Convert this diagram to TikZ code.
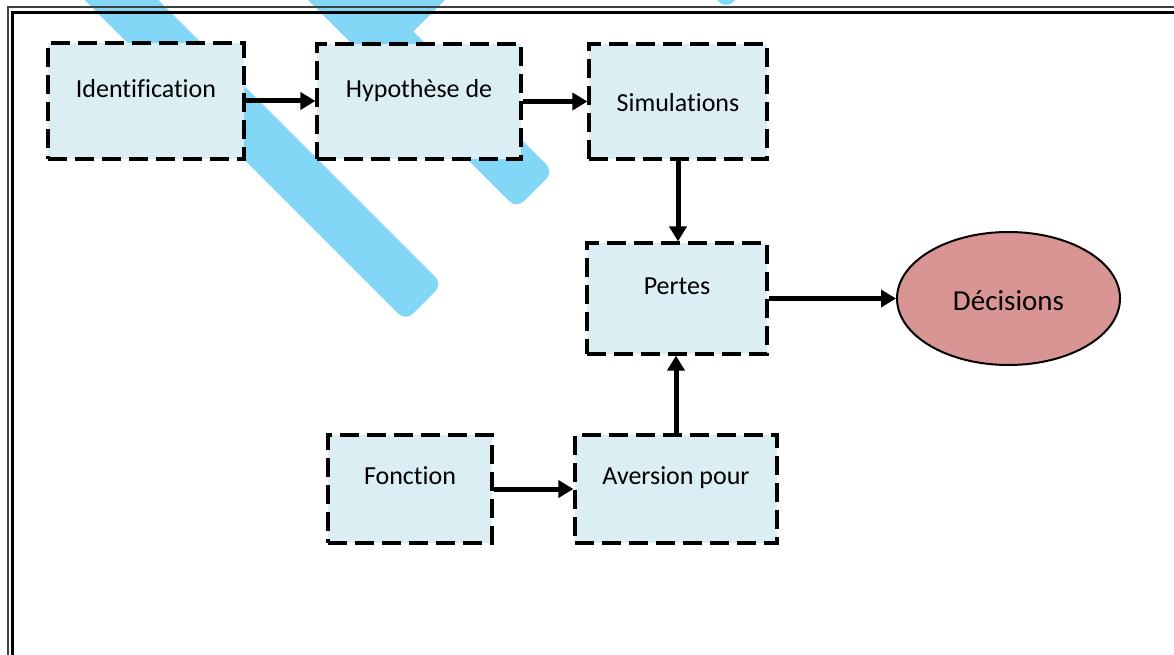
\documentclass[tikz,border=0pt]{standalone}
\usepackage{fontspec}
\setmainfont{Carlito}[Ligatures={NoCommon,NoRequired,NoContextual}]
\usetikzlibrary{arrows.meta,shapes.geometric,calc}
\definecolor{boxfill}{HTML}{DAEEF3}
\definecolor{ellfill}{HTML}{D99594}
\definecolor{bandblue}{HTML}{82D7F7}

\begin{document}
\begin{tikzpicture}[x=1pt,y=-1pt,
  procbox/.style={rectangle, draw=black, line width=3.2pt, dash pattern=on 19pt off 8pt,
                  fill=boxfill, inner sep=0pt},
  boxtext/.style={anchor=base, inner sep=0pt, font=\fontsize{26}{30}\selectfont},
  flow/.style={line width=5pt, -{Triangle[length=15pt,width=17pt]}},
  band/.style={fill=bandblue, rounded corners=10pt},
]
\useasboundingbox (0,0) rectangle (1174,655);

% diagonal background bands
\fill[band] (88.8,-69.5) -- (442.4,284.1) -- (405.6,320.9) -- (52,-32.7) -- cycle;
\fill[band] (199.8,-182) -- (553.4,171.6) -- (516.6,208.4) -- (163,-145.2) -- cycle;
\fill[bandblue] (394.9,49.9) -- (677.9,-233.1) -- (641.1,-269.9) -- (358.1,13.1) -- cycle;
\fill[band] (726,9) -- (762.8,-27.8) -- (462.8,-327.8) -- (426,-291) -- cycle;

% double page frame
\draw[line width=2pt, black!75] (7.5,655) -- (7.5,7.5) -- (1174,7.5);
\draw[line width=3pt] (12.5,655) -- (12.5,13) -- (1174,13);

% process boxes
\node[procbox, minimum width=196pt, minimum height=116pt] (ident) at (146,101) {};
\node[procbox, minimum width=204pt, minimum height=115pt] (hypo) at (419,101.5) {};
\node[procbox, minimum width=178pt, minimum height=115pt] (simu) at (678,101.5) {};
\node[procbox, minimum width=180pt, minimum height=111pt] (pertes) at (677,298.5) {};
\node[procbox, minimum width=164pt, minimum height=108pt] (fonct) at (410,489) {};
\node[procbox, minimum width=202pt, minimum height=108pt] (avers) at (676,489) {};
\node[ellipse, draw=black, line width=2pt, fill=ellfill, inner sep=0pt,
      minimum width=223pt, minimum height=133pt,
      font=\fontsize{29}{34}\selectfont] (decis) at (1008.5,298.5) {};
\node[anchor=base, inner sep=0pt, font=\fontsize{29}{34}\selectfont] (decis-t)
      at (1008.5,310) {Décisions};

% box captions
\node[boxtext] (ident-t) at (146,97.3) {Identification};
\node[boxtext] (hypo-t) at (419,97.3) {Hypothèse de};
\node[boxtext] (simu-t) at (678,111.7) {Simulations};
\node[boxtext] (pertes-t) at (677,294) {Pertes};
\node[boxtext] (fonct-t) at (410,484) {Fonction};
\node[boxtext] (avers-t) at (676,484) {Aversion pour};

% flow arrows
\draw[flow] (ident.east) -- (ident.east -| hypo.west);
\draw[flow] (hypo.east) -- (simu.west);
\draw[flow] (simu.south) -- (simu.south |- pertes.north);
\draw[flow] (pertes.east) -- (decis.west);
\draw[flow] (fonct.east) -- (avers.west);
\draw[flow] (avers.north) -- (avers.north |- pertes.south);
\end{tikzpicture}
\end{document}
